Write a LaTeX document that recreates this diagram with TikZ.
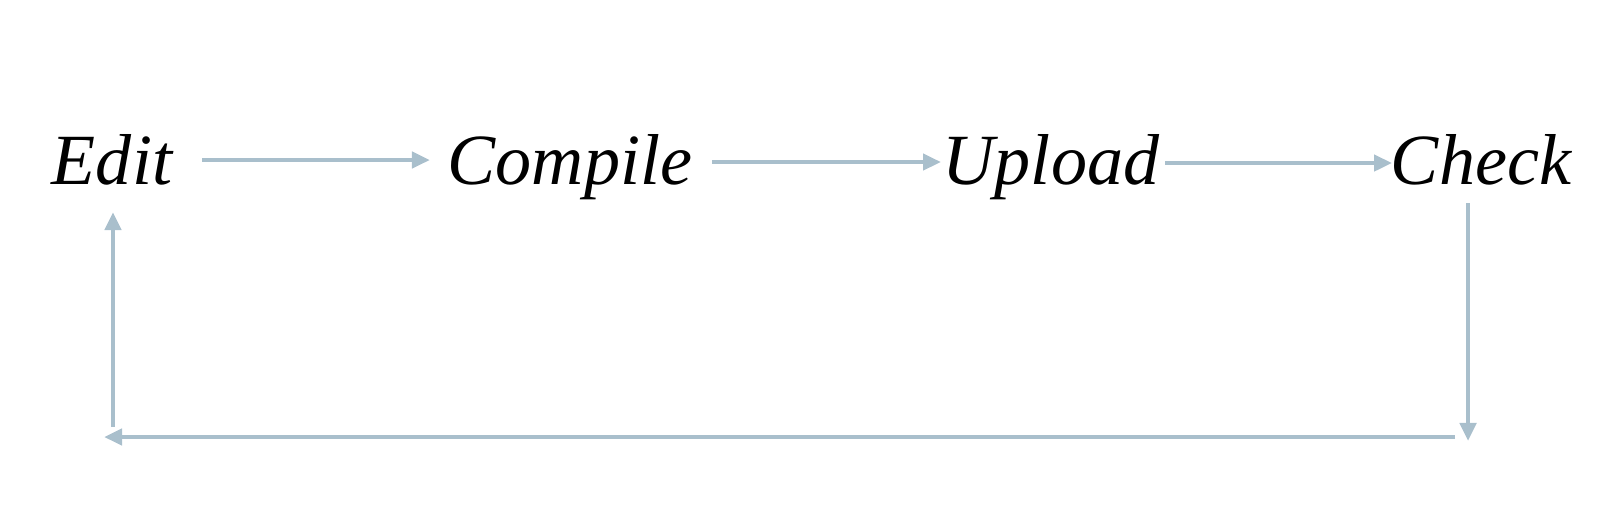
\documentclass[tikz,border=0pt]{standalone}
\usepackage{fontspec}
\setmainfont{Liberation Serif}
\usetikzlibrary{arrows.meta}
\definecolor{arrcol}{HTML}{A9BFCC}
\begin{document}
\begin{tikzpicture}[x=0.01cm,y=-0.01cm,
  lbl/.style={anchor=base,inner sep=0pt,font=\fontsize{20.5}{24}\selectfont\itshape},
  arr/.style={draw=arrcol,line width=1.35pt,-{Triangle[length=0.18cm,width=0.16cm]}}]
\useasboundingbox (0,0) rectangle (1600,515);
\node[lbl] (edit) at (112,184) {Edit};
\node[lbl] (compile) at (570,184) {Compile};
\node[lbl] (upload) at (1051,184) {Upload};
\node[lbl] (check) at (1481,184) {Check};
\coordinate (a1) at (202,160); \coordinate (a2) at (430,160);
\coordinate (b1) at (712,162); \coordinate (b2) at (941,162);
\coordinate (c1) at (1165,163); \coordinate (c2) at (1392,163);
\coordinate (d1) at (1468,203); \coordinate (d2) at (1468,441);
\coordinate (f1) at (1455,437); \coordinate (f2) at (104,437);
\coordinate (g1) at (113,427); \coordinate (g2) at (113,212);
\draw[arr] (a1) -- (a2);
\draw[arr] (b1) -- (b2);
\draw[arr] (c1) -- (c2);
\draw[arr] (d1) -- (d2);
\draw[arr] (f1) -- (f2);
\draw[arr] (g1) -- (g2);
\end{tikzpicture}
\end{document}
